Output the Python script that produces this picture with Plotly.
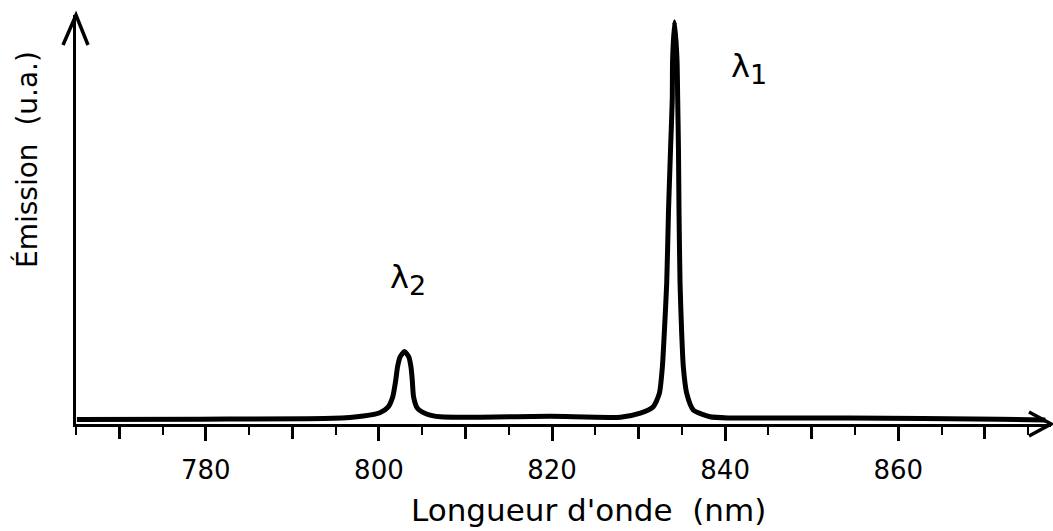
import plotly.graph_objects as go

# Emission spectrum (arbitrary units, λ1 peak = 100)
wavelength_nm = [765.1, 779.3, 794.7, 798.2, 800.1, 801.05, 801.6, 801.95, 802.15, 802.45,
                 802.95, 803.45, 803.7, 803.85, 804.0, 804.45, 805.5, 807.1, 811.7, 819.8,
                 827.9, 830.2, 831.7, 832.4, 832.75, 832.97, 833.25, 833.46, 833.69, 833.89,
                 833.93, 834.15, 834.44, 834.52, 834.61, 834.67, 834.79, 834.98, 835.17, 835.56,
                 836.32, 838.25, 840.6, 854.4, 871.7, 877.0]
emission_ua = [1.1, 1.2, 1.4, 2.0, 2.8, 4.2, 6.8, 11.0, 14.2, 16.7,
               18.0, 16.7, 14.2, 11.0, 6.8, 3.9, 2.5, 1.8, 1.7, 1.9,
               1.7, 2.7, 4.3, 7.6, 14.2, 22.6, 35.0, 53.2, 68.2, 80.6,
               90.5, 100.0, 90.5, 80.6, 68.2, 53.2, 35.0, 22.6, 14.2, 7.6,
               3.5, 1.8, 1.5, 1.5, 1.2, 1.0]

labelled_ticks = [780, 800, 820, 840, 860]
x_tick_labels = ["780", "800", "820", "840", "860"]
unlabelled_major_ticks = [770, 790, 810, 830, 850, 870]
x_range = [765, 877.65]
y_range = [0, 101.7]

peak_names = ["1", "2"]
peak_label_x = [840.5, 801.0]
peak_label_y = [88.5, 36.0]

font_family = "DejaVu Sans"

fig = go.Figure()
fig.add_trace(go.Scatter(
    x=wavelength_nm, y=emission_ua, mode="lines",
    line=dict(color="black", width=5, shape="spline", smoothing=0.6),
    hoverinfo="skip", showlegend=False,
))
# invisible copy on the overlaid axis that carries the unlabelled long ticks
fig.add_trace(go.Scatter(
    x=wavelength_nm, y=emission_ua, mode="lines", xaxis="x2",
    line=dict(color="rgba(0,0,0,0)", width=0),
    hoverinfo="skip", showlegend=False,
))

fig.update_layout(
    width=1053, height=531, autosize=False,
    margin=dict(l=76, r=2, t=15, b=107),
    paper_bgcolor="white", plot_bgcolor="white",
    showlegend=False,
    xaxis=dict(
        range=x_range, showgrid=False, zeroline=False,
        showline=True, linecolor="black", linewidth=3,
        tickmode="array", tickvals=labelled_ticks, ticktext=x_tick_labels,
        ticks="outside", ticklen=14, tickwidth=2.5, tickcolor="black",
        tickfont=dict(family=font_family, size=26, color="black"),
        ticklabelstandoff=7,
        minor=dict(dtick=5, tick0=765, ticks="outside", ticklen=8,
                   tickwidth=2, tickcolor="black"),
    ),
    xaxis2=dict(
        range=x_range, overlaying="x", anchor="y", side="bottom",
        showgrid=False, zeroline=False, showline=False,
        tickmode="array", tickvals=unlabelled_major_ticks,
        ticks="outside", ticklen=14, tickwidth=2.5, tickcolor="black",
        showticklabels=False,
    ),
    yaxis=dict(
        range=y_range, showgrid=False, zeroline=False,
        showline=True, linecolor="black", linewidth=3,
        showticklabels=False, ticks="",
    ),
)

# Arrow heads at the ends of the axes
fig.add_shape(type="path", xref="paper", yref="paper",
              xsizemode="pixel", ysizemode="pixel", xanchor=1.0, yanchor=0,
              path="M -22,12 L 0,0 L -22,-12",
              line=dict(color="black", width=3.5))
fig.add_shape(type="path", xref="paper", yref="paper",
              xsizemode="pixel", ysizemode="pixel", xanchor=0, yanchor=1.0,
              path="M -13,-30 L 0,0 L 12,-30",
              line=dict(color="black", width=3.5))

# Axis titles
fig.add_annotation(text="Longueur d'onde  (nm)", xref="paper", yref="paper",
                   x=0.526, y=0, xanchor="center", yanchor="top", yshift=-66,
                   showarrow=False,
                   font=dict(family=font_family, size=31, color="black"))
fig.add_annotation(text="Émission  (u.a.)", xref="paper", yref="paper",
                   x=0, y=0.6455, xanchor="center", yanchor="middle", xshift=-49,
                   textangle=-90, showarrow=False,
                   font=dict(family=font_family, size=28, color="black"))

# Peak labels
for name, lx, ly in zip(peak_names, peak_label_x, peak_label_y):
    fig.add_annotation(text="λ<sub><span style='font-size:27px'>" + name + "</span></sub>",
                       x=lx, y=ly, xref="x", yref="y",
                       xanchor="left", yanchor="middle", showarrow=False,
                       font=dict(family=font_family, size=32, color="black"))

fig.write_html("out.html", config={"displayModeBar": False},
               post_script="document.body.style.margin='0';")
